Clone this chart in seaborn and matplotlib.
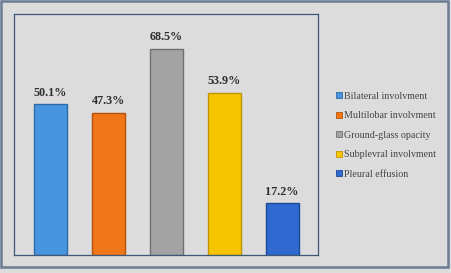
import numpy as np
import pandas as pd
import seaborn as sns
import matplotlib.pyplot as plt
from matplotlib.patches import Rectangle
from matplotlib.lines import Line2D

categories = ["Bilateral involvment", "Multilobar involvment", "Ground-glass opacity",
              "Subplevral involvment", "Pleural effusion"]
values = [50.1, 47.3, 68.5, 53.9, 17.2]
labels = ["50.1%", "47.3%", "68.5%", "53.9%", "17.2%"]
colors = ["#4895df", "#f07618", "#a3a3a3", "#f6c400", "#2f6ad0"]
edges = ["#2a6aa8", "#b4520c", "#707070", "#c09400", "#1d4894"]

sns.set_style("white")
plt.rcParams['font.family'] = ['Liberation Serif', 'DejaVu Serif']

df = pd.DataFrame({"cat": categories, "val": values})

fig = plt.figure(figsize=(4.51, 2.73), dpi=100, facecolor="#dcdcdc")
ax = fig.add_axes([14 / 451, 18 / 273, 304 / 451, 241 / 273])
ax.set_facecolor("#dcdcdc")

sns.barplot(data=df, x="cat", y="val", hue="cat", palette=colors, width=0.57,
            dodge=False, legend=False, ax=ax, saturation=1)
for bar, ec in zip(ax.patches, edges):
    bar.set_edgecolor(ec)
    bar.set_linewidth(1.0)

for cont, lab in zip(ax.containers, labels):
    ax.bar_label(cont, labels=[lab], padding=4, fontsize=8.7, fontweight="bold", color="#2e2e2e")

ax.set_ylim(0, 80)
ax.set_xlim(-0.63, 4.62)
ax.set_xticks([])
ax.set_yticks([])
ax.set_xlabel("")
ax.set_ylabel("")
for s in ax.spines.values():
    s.set_visible(True)
    s.set_color("#3e5877")
    s.set_linewidth(0.9)

handles = [Line2D([], [], marker="s", linestyle="none", markersize=4,
                  markerfacecolor=c, markeredgecolor=e, markeredgewidth=0.6)
           for c, e in zip(colors, edges)]
fig.legend(handles, categories, loc="center left", bbox_to_anchor=(0.733, 0.505),
           frameon=False, fontsize=7.2, labelcolor="#444444", handletextpad=0.1,
           handlelength=0.8, labelspacing=1.05, borderaxespad=0)

fig.patches.append(Rectangle((1 / 451, 6 / 273), 447 / 451, 266 / 273, transform=fig.transFigure,
                             fill=False, edgecolor="#6c7c92", linewidth=1.8))

fig.savefig("out.png", dpi=100, facecolor=fig.get_facecolor())
